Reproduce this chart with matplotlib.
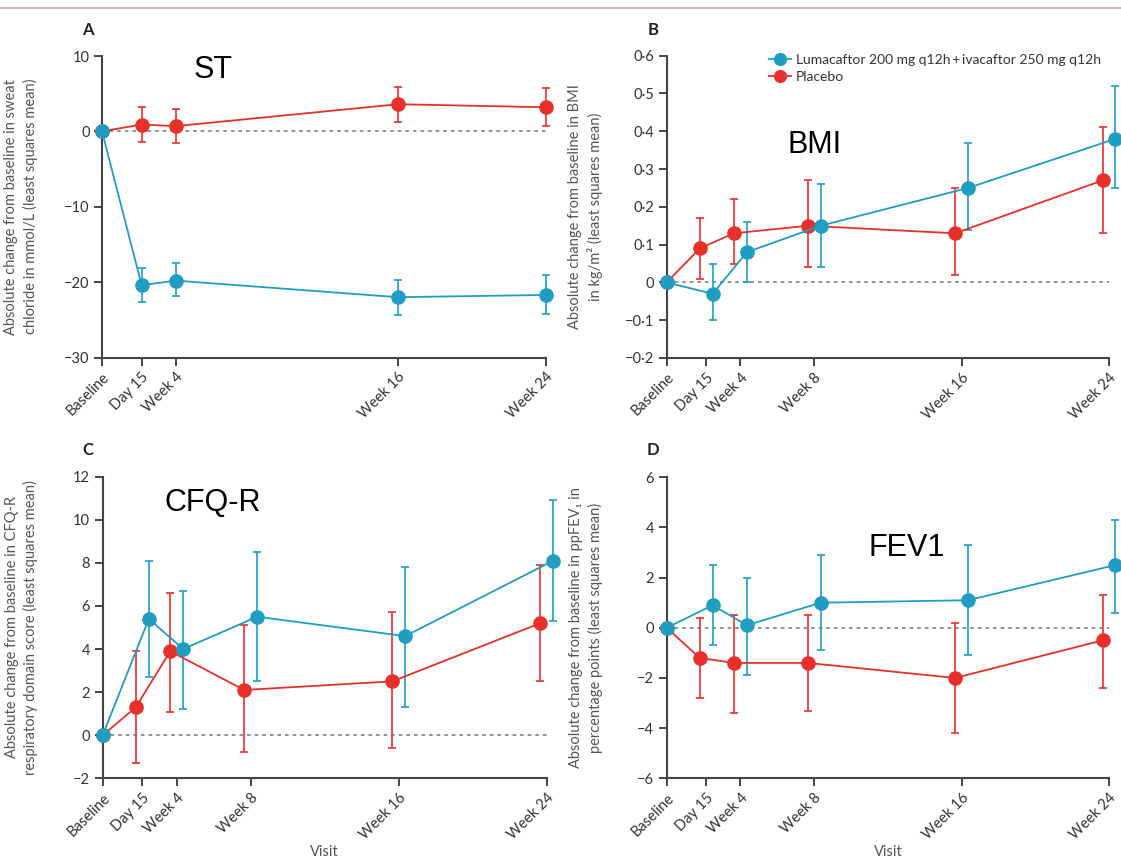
import matplotlib
matplotlib.use("Agg")
import matplotlib.pyplot as plt
from matplotlib.lines import Line2D
import numpy as np

plt.rcParams['font.family'] = ['Lato', 'DejaVu Sans']

# visit positions in weeks (Day 15 = 15/7 weeks)
visits_a = ["Baseline", "Day 15", "Week 4", "Week 16", "Week 24"]
weeks_a = [0, 15 / 7, 4, 16, 24]
visits = ["Baseline", "Day 15", "Week 4", "Week 8", "Week 16", "Week 24"]
weeks = [0, 15 / 7, 4, 8, 16, 24]

# A: sweat chloride (mmol/L)
st_act = [0, -20.4, -19.8, -22.0, -21.7]
st_act_lo = [0, -22.7, -21.9, -24.3, -24.2]
st_act_hi = [0, -18.1, -17.5, -19.7, -19.1]
st_pla = [0, 0.9, 0.7, 3.6, 3.2]
st_pla_lo = [0, -1.4, -1.5, 1.2, 0.7]
st_pla_hi = [0, 3.2, 3.0, 5.9, 5.8]

# B: BMI (kg/m2)
bmi_act = [0, -0.03, 0.08, 0.15, 0.25, 0.38]
bmi_act_lo = [0, -0.10, 0.0, 0.04, 0.14, 0.25]
bmi_act_hi = [0, 0.05, 0.16, 0.26, 0.37, 0.52]
bmi_pla = [0, 0.09, 0.13, 0.15, 0.13, 0.27]
bmi_pla_lo = [0, 0.01, 0.05, 0.04, 0.02, 0.13]
bmi_pla_hi = [0, 0.17, 0.22, 0.27, 0.25, 0.41]

# C: CFQ-R respiratory domain
cfq_act = [0, 5.4, 4.0, 5.5, 4.6, 8.1]
cfq_act_lo = [0, 2.7, 1.2, 2.5, 1.3, 5.3]
cfq_act_hi = [0, 8.1, 6.7, 8.5, 7.8, 10.9]
cfq_pla = [0, 1.3, 3.9, 2.1, 2.5, 5.2]
cfq_pla_lo = [0, -1.3, 1.1, -0.8, -0.6, 2.5]
cfq_pla_hi = [0, 3.9, 6.6, 5.1, 5.7, 7.9]

# D: ppFEV1
fev_act = [0, 0.9, 0.1, 1.0, 1.1, 2.5]
fev_act_lo = [0, -0.7, -1.9, -0.9, -1.1, 0.6]
fev_act_hi = [0, 2.5, 2.0, 2.9, 3.3, 4.3]
fev_pla = [0, -1.2, -1.4, -1.4, -2.0, -0.5]
fev_pla_lo = [0, -2.8, -3.4, -3.3, -4.2, -2.4]
fev_pla_hi = [0, 0.4, 0.5, 0.5, 0.2, 1.3]

BLUE = "#1f9dc2"
RED = "#e8302a"
AX = "#444444"

fig = plt.figure(figsize=(11.21, 8.64), dpi=100)
fig.add_artist(Line2D([0, 1], [1 - 8 / 864, 1 - 8 / 864], color="#d9a3b5", lw=1.2))

W, H = 1121, 864
def axes_px(l, r, t, b):
    return fig.add_axes([l / W, 1 - b / H, (r - l) / W, (b - t) / H])

def fmt(v):
    s = ("%g" % v).replace(".", "\u00b7")
    return s.replace("-", "\u2212")

def panel(ax, x, xlabels, act, alo, ahi, pla, plo, phi, yticks, ylabel, dodge, dec=False, visit=False):
    x = np.array(x)
    xa = x + np.where(x > 0, dodge, 0)
    xp = x - np.where(x > 0, dodge, 0)
    ax.axhline(0, color="#8a8a8a", lw=1.3, ls=(0, (2, 2.2)), zorder=1)
    for xx, m, lo, hi, c in [(xp, pla, plo, phi, RED), (xa, act, alo, ahi, BLUE)]:
        m = np.array(m)
        err = [m - np.array(lo), np.array(hi) - m]
        ax.errorbar(xx, m, yerr=err, color=c, lw=1.3, elinewidth=1.2, capsize=3,
                    capthick=1.2, marker="o", ms=9.5, clip_on=False, zorder=3)
    ax.set_xlim(0, 24)
    ax.set_ylim(yticks[0], yticks[-1])
    ax.set_xticks(x)
    ax.set_xticklabels(xlabels, rotation=45, ha="right", rotation_mode="anchor")
    ax.set_yticks(yticks)
    if dec:
        ax.set_yticklabels([fmt(round(v, 1)) for v in yticks])
    else:
        ax.set_yticklabels([fmt(v) for v in yticks])
    for s in ["top", "right"]:
        ax.spines[s].set_visible(False)
    for s in ["left", "bottom"]:
        ax.spines[s].set_color(AX)
        ax.spines[s].set_linewidth(1.5)
    ax.tick_params(direction="out", length=6, width=1.4, color=AX, labelsize=10.5,
                   labelcolor="#333333", pad=3)
    ax.set_ylabel(ylabel, fontsize=10.5, color="#555555", linespacing=1.35)
    ax.yaxis.set_label_coords(-0.145, 0.5)
    if visit:
        ax.set_xlabel("Visit", fontsize=10.5, color="#555555", labelpad=2)

axA = axes_px(102, 546, 56, 357.5)
axB = axes_px(666.7, 1109, 55.7, 358)
axC = axes_px(102.7, 546.7, 476.7, 778.3)
axD = axes_px(666.7, 1109, 477.3, 778.3)

panel(axA, weeks_a, visits_a, st_act, st_act_lo, st_act_hi, st_pla, st_pla_lo, st_pla_hi,
      [-30, -20, -10, 0, 10],
      "Absolute change from baseline in sweat\nchloride in mmol/L (least squares mean)", 0)
panel(axB, weeks, visits, bmi_act, bmi_act_lo, bmi_act_hi, bmi_pla, bmi_pla_lo, bmi_pla_hi,
      list(np.round(np.arange(-0.2, 0.61, 0.1), 1)),
      "Absolute change from baseline in BMI\nin kg/m\u00b2 (least squares mean)", 0.35, dec=True)
panel(axC, weeks, visits, cfq_act, cfq_act_lo, cfq_act_hi, cfq_pla, cfq_pla_lo, cfq_pla_hi,
      [-2, 0, 2, 4, 6, 8, 10, 12],
      "Absolute change from baseline in CFQ-R\nrespiratory domain score (least squares mean)", 0.35, visit=True)
panel(axD, weeks, visits, fev_act, fev_act_lo, fev_act_hi, fev_pla, fev_pla_lo, fev_pla_hi,
      [-6, -4, -2, 0, 2, 4, 6],
      "Absolute change from baseline in ppFEV\u2081 in\npercentage points (least squares mean)", 0.35, visit=True)

# legend in panel B
handles = [Line2D([], [], color=BLUE, marker="o", ms=8.5, lw=1.3),
           Line2D([], [], color=RED, marker="o", ms=8.5, lw=1.3)]
axB.legend(handles, ["Lumacaftor 200 mg q12h\u2009+\u2009ivacaftor 250 mg q12h", "Placebo"],
           loc="upper left", bbox_to_anchor=(0.215, 1.03), frameon=False, fontsize=10,
           handlelength=1.6, handletextpad=0.35, labelspacing=0.4, borderpad=0,
           labelcolor="#333333")

for lbl, xp, yp in [("A", 88, 30), ("B", 653, 30), ("C", 88, 450), ("D", 653, 450)]:
    fig.text(xp / W, 1 - yp / H, lbl, fontsize=12, fontweight="bold", color="#222222",
             ha="center", va="center")

for lbl, xp, yp in [("ST", 213, 70), ("BMI", 815, 145), ("CFQ-R", 213, 503), ("FEV1", 907, 548)]:
    fig.text(xp / W, 1 - yp / H, lbl, fontsize=22, family="Liberation Sans", color="black",
             ha="center", va="center")

fig.savefig("out.png", dpi=100, facecolor="white")
